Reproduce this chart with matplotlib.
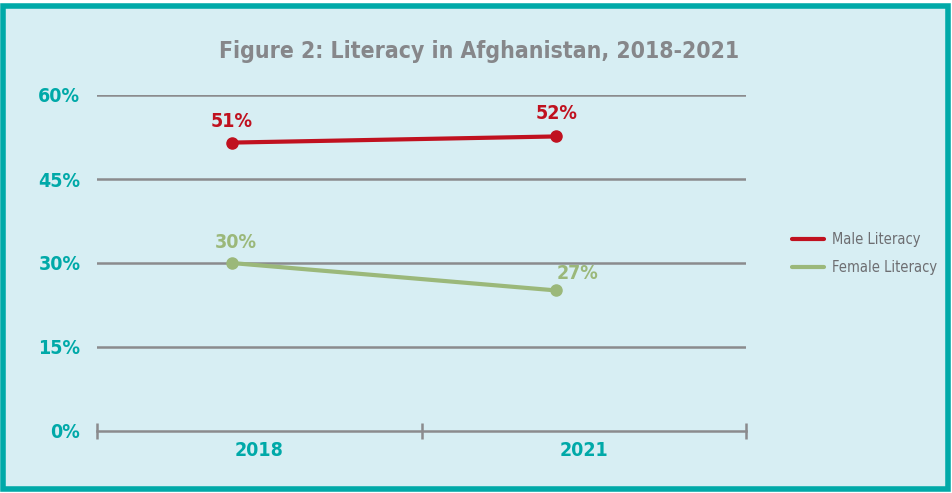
# -*- coding: utf-8 -*-
#------------------------------------------------------------------------------
# Import libraries

import matplotlib
matplotlib.use("Agg")
import matplotlib.pyplot as plt
from matplotlib.patches import Rectangle
import numpy as np

#------------------------------------------------------------------------------
# Data

years = ["2018", "2021"]
male = [51.5, 52.6]
female = [30.0, 25.1]
male_labels = ["51%", "52%"]
female_labels = ["30%", "27%"]
yticks = [0, 15, 30, 45, 60]

#------------------------------------------------------------------------------
# Style

BG = "#d7eef3"
TEAL = "#00a9a8"
RED = "#c0111f"
GREEN = "#9bb87a"
GRID = "#8b8b8d"
TEXT_GRAY = "#6d6e71"
FONT = ["DejaVu Sans"]

plt.rcParams['font.family'] = FONT
plt.rcParams['font.stretch'] = 'condensed'

#------------------------------------------------------------------------------
def main():
    fig = plt.figure(figsize=(9.52, 4.93), dpi=100, facecolor="white")

    # frame with teal border
    fig.patches.append(Rectangle((3 / 952, 4 / 493), 945 / 952, 483 / 493,
                                 transform=fig.transFigure, facecolor=BG,
                                 edgecolor=TEAL, linewidth=4, zorder=-5))

    ax = fig.add_axes([97 / 952, 1 - 431 / 493, 649 / 952, 336 / 493])
    ax.set_facecolor("none")

    # points sit a bit left of the category centres
    x = np.arange(len(years)) + 0.415

    ax.plot(x, male, color=RED, lw=3, marker="o", ms=8, label="Male Literacy",
            solid_capstyle="round", zorder=3)
    ax.plot(x, female, color=GREEN, lw=3, marker="o", ms=8,
            label="Female Literacy", solid_capstyle="round", zorder=3)

    lab_kw = dict(textcoords="offset points", va="bottom", fontsize=14,
                  fontweight="bold")
    ax.annotate(male_labels[0], (x[0], male[0]), xytext=(0, 8), ha="center",
                color=RED, **lab_kw)
    ax.annotate(male_labels[1], (x[1], male[1]), xytext=(0, 10), ha="center",
                color=RED, **lab_kw)
    ax.annotate(female_labels[0], (x[0], female[0]), xytext=(3, 8),
                ha="center", color=GREEN, **lab_kw)
    ax.annotate(female_labels[1], (x[1], female[1]), xytext=(0, 5),
                ha="left", color=GREEN, **lab_kw)

    ax.set_xlim(0, 2)
    ax.set_ylim(0, 60)

    # horizontal grid
    for y in yticks[1:]:
        ax.axhline(y, color=GRID, lw=1.8, zorder=1)

    ax.set_yticks(yticks)
    ax.set_yticklabels([f"{v}%" for v in yticks])
    ax.tick_params(axis="y", length=0, pad=12, labelsize=14, labelcolor=TEAL)
    for lab in ax.get_yticklabels():
        lab.set_fontweight("bold")

    ax.set_xticks([0.5, 1.5])
    ax.set_xticklabels(years)
    ax.set_xticks([0, 1, 2], minor=True)
    ax.tick_params(axis="x", which="major", length=0, pad=7, labelsize=14,
                   labelcolor=TEAL)
    ax.tick_params(axis="x", which="minor", length=11, width=1.8,
                   direction="inout", color=GRID)
    for lab in ax.get_xticklabels():
        lab.set_fontweight("bold")

    for s in ["top", "right", "left"]:
        ax.spines[s].set_visible(False)
    ax.spines["bottom"].set_color(GRID)
    ax.spines["bottom"].set_linewidth(1.8)

    fig.text(0.503, 0.895, "Figure 2: Literacy in Afghanistan, 2018-2021",
             ha="center", va="center", fontsize=16.5, fontweight="bold",
             color="#86878a")

    leg = ax.legend(loc="center left", bbox_to_anchor=(1.05, 0.528),
                    frameon=False, fontsize=10.5, handlelength=2.2,
                    handletextpad=0.6, labelspacing=0.85)
    for line in leg.get_lines():
        line.set_marker("")
        line.set_linewidth(3)
    for t in leg.get_texts():
        t.set_color(TEXT_GRAY)

    fig.savefig("out.png", dpi=100, facecolor="white")

#------------------------------------------------------------------------------

if __name__ == "__main__":
    main()
